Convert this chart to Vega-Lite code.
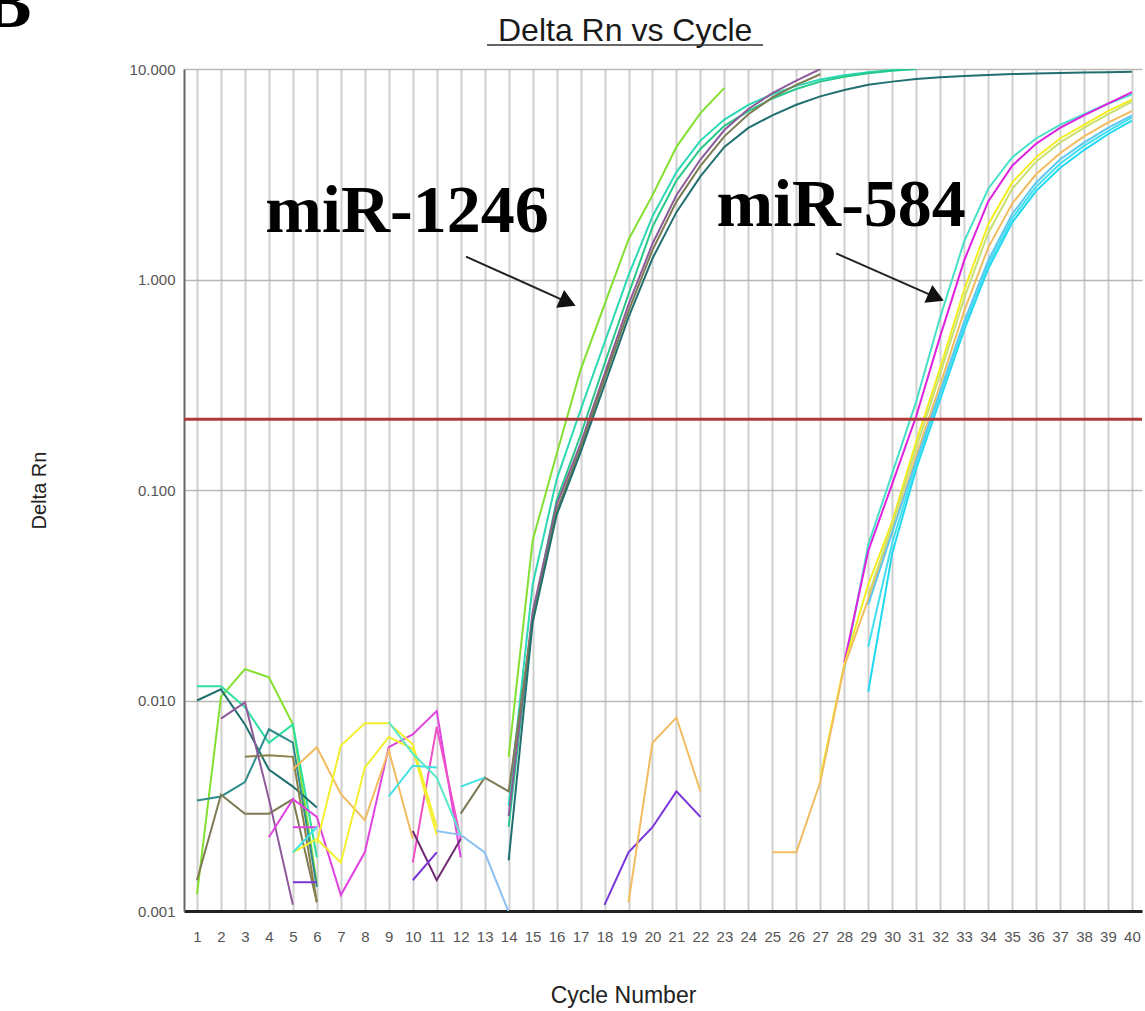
{
  "$schema": "https://vega.github.io/schema/vega-lite/v6.json",
  "width": 958,
  "height": 842,
  "autosize": {"type": "none"},
  "padding": {"left": 184, "top": 69, "right": 3, "bottom": 100},
  "background": "white",
  "config": {"view": {"stroke": null}, "font": "Liberation Sans"},
  "datasets": {
    "curves": [
      {"s":"Lm","g":"Lm","c":14,"v":0.0054},{"s":"Lm","g":"Lm","c":15,"v":0.0575},{"s":"Lm","g":"Lm","c":16,"v":0.148},{"s":"Lm","g":"Lm","c":17,"v":0.372},{"s":"Lm","g":"Lm","c":18,"v":0.759},{"s":"Lm","g":"Lm","c":19,"v":1.55},{"s":"Lm","g":"Lm","c":20,"v":2.51},{"s":"Lm","g":"Lm","c":21,"v":4.27},{"s":"Lm","g":"Lm","c":22,"v":6.17},{"s":"Lm","g":"Lm","c":23,"v":8.13},
      {"s":"T","g":"T","c":14,"v":0.00316},{"s":"T","g":"T","c":15,"v":0.0355},{"s":"T","g":"T","c":16,"v":0.112},{"s":"T","g":"T","c":17,"v":0.24},{"s":"T","g":"T","c":18,"v":0.501},{"s":"T","g":"T","c":19,"v":1.047},{"s":"T","g":"T","c":20,"v":1.995},{"s":"T","g":"T","c":21,"v":3.236},{"s":"T","g":"T","c":22,"v":4.571},{"s":"T","g":"T","c":23,"v":5.754},{"s":"T","g":"T","c":24,"v":6.761},{"s":"T","g":"T","c":25,"v":7.586},{"s":"T","g":"T","c":26,"v":8.318},{"s":"T","g":"T","c":27,"v":8.913},{"s":"T","g":"T","c":28,"v":9.333},{"s":"T","g":"T","c":29,"v":9.66},{"s":"T","g":"T","c":30,"v":9.886},{"s":"T","g":"T","c":31,"v":10},
      {"s":"G","g":"G","c":14,"v":0.00251},{"s":"G","g":"G","c":15,"v":0.0251},{"s":"G","g":"G","c":16,"v":0.0891},{"s":"G","g":"G","c":17,"v":0.182},{"s":"G","g":"G","c":18,"v":0.398},{"s":"G","g":"G","c":19,"v":0.851},{"s":"G","g":"G","c":20,"v":1.778},{"s":"G","g":"G","c":21,"v":2.951},{"s":"G","g":"G","c":22,"v":4.169},{"s":"G","g":"G","c":23,"v":5.37},{"s":"G","g":"G","c":24,"v":6.31},{"s":"G","g":"G","c":25,"v":7.244},{"s":"G","g":"G","c":26,"v":8.035},{"s":"G","g":"G","c":27,"v":8.71},{"s":"G","g":"G","c":28,"v":9.183},{"s":"G","g":"G","c":29,"v":9.55},{"s":"G","g":"G","c":30,"v":9.817},{"s":"G","g":"G","c":31,"v":10},
      {"s":"P","g":"P","c":14,"v":0.00282},{"s":"P","g":"P","c":15,"v":0.0263},{"s":"P","g":"P","c":16,"v":0.0851},{"s":"P","g":"P","c":17,"v":0.166},{"s":"P","g":"P","c":18,"v":0.355},{"s":"P","g":"P","c":19,"v":0.759},{"s":"P","g":"P","c":20,"v":1.479},{"s":"P","g":"P","c":21,"v":2.512},{"s":"P","g":"P","c":22,"v":3.715},{"s":"P","g":"P","c":23,"v":5.129},{"s":"P","g":"P","c":24,"v":6.457},{"s":"P","g":"P","c":25,"v":7.674},{"s":"P","g":"P","c":26,"v":8.81},{"s":"P","g":"P","c":27,"v":10},
      {"s":"O","g":"O","c":12,"v":0.0029},{"s":"O","g":"O","c":13,"v":0.0043},{"s":"O","g":"O","c":14,"v":0.0037},{"s":"O","g":"O","c":15,"v":0.024},{"s":"O","g":"O","c":16,"v":0.0794},{"s":"O","g":"O","c":17,"v":0.158},{"s":"O","g":"O","c":18,"v":0.339},{"s":"O","g":"O","c":19,"v":0.708},{"s":"O","g":"O","c":20,"v":1.38},{"s":"O","g":"O","c":21,"v":2.344},{"s":"O","g":"O","c":22,"v":3.467},{"s":"O","g":"O","c":23,"v":4.786},{"s":"O","g":"O","c":24,"v":6.095},{"s":"O","g":"O","c":25,"v":7.328},{"s":"O","g":"O","c":26,"v":8.414},{"s":"O","g":"O","c":27,"v":9.441},
      {"s":"D","g":"D","c":14,"v":0.00174},{"s":"D","g":"D","c":15,"v":0.0234},{"s":"D","g":"D","c":16,"v":0.0759},{"s":"D","g":"D","c":17,"v":0.151},{"s":"D","g":"D","c":18,"v":0.316},{"s":"D","g":"D","c":19,"v":0.661},{"s":"D","g":"D","c":20,"v":1.259},{"s":"D","g":"D","c":21,"v":2.089},{"s":"D","g":"D","c":22,"v":3.09},{"s":"D","g":"D","c":23,"v":4.266},{"s":"D","g":"D","c":24,"v":5.248},{"s":"D","g":"D","c":25,"v":6.026},{"s":"D","g":"D","c":26,"v":6.761},{"s":"D","g":"D","c":27,"v":7.413},{"s":"D","g":"D","c":28,"v":7.943},{"s":"D","g":"D","c":29,"v":8.414},{"s":"D","g":"D","c":30,"v":8.71},{"s":"D","g":"D","c":31,"v":8.954},{"s":"D","g":"D","c":32,"v":9.141},{"s":"D","g":"D","c":33,"v":9.268},{"s":"D","g":"D","c":34,"v":9.376},{"s":"D","g":"D","c":35,"v":9.462},{"s":"D","g":"D","c":36,"v":9.528},{"s":"D","g":"D","c":37,"v":9.572},{"s":"D","g":"D","c":38,"v":9.616},{"s":"D","g":"D","c":39,"v":9.661},{"s":"D","g":"D","c":40,"v":9.705},
      {"s":"T5","g":"T5","c":28,"v":0.0141},{"s":"T5","g":"T5","c":29,"v":0.055},{"s":"T5","g":"T5","c":30,"v":0.12},{"s":"T5","g":"T5","c":31,"v":0.263},{"s":"T5","g":"T5","c":32,"v":0.661},{"s":"T5","g":"T5","c":33,"v":1.514},{"s":"T5","g":"T5","c":34,"v":2.692},{"s":"T5","g":"T5","c":35,"v":3.802},{"s":"T5","g":"T5","c":36,"v":4.677},{"s":"T5","g":"T5","c":37,"v":5.433},{"s":"T5","g":"T5","c":38,"v":6.095},{"s":"T5","g":"T5","c":39,"v":6.84},{"s":"T5","g":"T5","c":40,"v":7.586},
      {"s":"M5","g":"M5","c":28,"v":0.0151},{"s":"M5","g":"M5","c":29,"v":0.0513},{"s":"M5","g":"M5","c":30,"v":0.107},{"s":"M5","g":"M5","c":31,"v":0.224},{"s":"M5","g":"M5","c":32,"v":0.537},{"s":"M5","g":"M5","c":33,"v":1.23},{"s":"M5","g":"M5","c":34,"v":2.344},{"s":"M5","g":"M5","c":35,"v":3.467},{"s":"M5","g":"M5","c":36,"v":4.416},{"s":"M5","g":"M5","c":37,"v":5.248},{"s":"M5","g":"M5","c":38,"v":6.026},{"s":"M5","g":"M5","c":39,"v":6.84},{"s":"M5","g":"M5","c":40,"v":7.762},
      {"s":"Y5","g":"Y5","c":27,"v":0.0043},{"s":"Y5","g":"Y5","c":28,"v":0.0148},{"s":"Y5","g":"Y5","c":29,"v":0.0355},{"s":"Y5","g":"Y5","c":30,"v":0.0708},{"s":"Y5","g":"Y5","c":31,"v":0.17},{"s":"Y5","g":"Y5","c":32,"v":0.38},{"s":"Y5","g":"Y5","c":33,"v":0.891},{"s":"Y5","g":"Y5","c":34,"v":1.82},{"s":"Y5","g":"Y5","c":35,"v":2.884},{"s":"Y5","g":"Y5","c":36,"v":3.802},{"s":"Y5","g":"Y5","c":37,"v":4.677},{"s":"Y5","g":"Y5","c":38,"v":5.433},{"s":"Y5","g":"Y5","c":39,"v":6.31},{"s":"Y5","g":"Y5","c":40,"v":7.161},
      {"s":"YG5","g":"YG5","c":29,"v":0.0316},{"s":"YG5","g":"YG5","c":30,"v":0.0676},{"s":"YG5","g":"YG5","c":31,"v":0.158},{"s":"YG5","g":"YG5","c":32,"v":0.355},{"s":"YG5","g":"YG5","c":33,"v":0.813},{"s":"YG5","g":"YG5","c":34,"v":1.66},{"s":"YG5","g":"YG5","c":35,"v":2.692},{"s":"YG5","g":"YG5","c":36,"v":3.631},{"s":"YG5","g":"YG5","c":37,"v":4.467},{"s":"YG5","g":"YG5","c":38,"v":5.248},{"s":"YG5","g":"YG5","c":39,"v":6.095},{"s":"YG5","g":"YG5","c":40,"v":7.0},
      {"s":"or","g":"Or5","c":25,"v":0.0019},{"s":"or","g":"Or5","c":26,"v":0.0019},{"s":"or","g":"Or5","c":27,"v":0.0041},{"s":"or","g":"Or5","c":28,"v":0.0145},{"s":"or","g":"Or5","c":29,"v":0.0302},{"s":"or","g":"Or5","c":30,"v":0.0631},{"s":"or","g":"Or5","c":31,"v":0.145},{"s":"or","g":"Or5","c":32,"v":0.316},{"s":"or","g":"Or5","c":33,"v":0.708},{"s":"or","g":"Or5","c":34,"v":1.413},{"s":"or","g":"Or5","c":35,"v":2.291},{"s":"or","g":"Or5","c":36,"v":3.162},{"s":"or","g":"Or5","c":37,"v":3.981},{"s":"or","g":"Or5","c":38,"v":4.786},{"s":"or","g":"Or5","c":39,"v":5.559},{"s":"or","g":"Or5","c":40,"v":6.31},
      {"s":"C5a","g":"C5a","c":29,"v":0.011},{"s":"C5a","g":"C5a","c":30,"v":0.0501},{"s":"C5a","g":"C5a","c":31,"v":0.126},{"s":"C5a","g":"C5a","c":32,"v":0.269},{"s":"C5a","g":"C5a","c":33,"v":0.575},{"s":"C5a","g":"C5a","c":34,"v":1.122},{"s":"C5a","g":"C5a","c":35,"v":1.862},{"s":"C5a","g":"C5a","c":36,"v":2.63},{"s":"C5a","g":"C5a","c":37,"v":3.388},{"s":"C5a","g":"C5a","c":38,"v":4.121},{"s":"C5a","g":"C5a","c":39,"v":4.898},{"s":"C5a","g":"C5a","c":40,"v":5.689},
      {"s":"C5b","g":"C5b","c":29,"v":0.018},{"s":"C5b","g":"C5b","c":30,"v":0.0562},{"s":"C5b","g":"C5b","c":31,"v":0.132},{"s":"C5b","g":"C5b","c":32,"v":0.282},{"s":"C5b","g":"C5b","c":33,"v":0.603},{"s":"C5b","g":"C5b","c":34,"v":1.175},{"s":"C5b","g":"C5b","c":35,"v":1.95},{"s":"C5b","g":"C5b","c":36,"v":2.754},{"s":"C5b","g":"C5b","c":37,"v":3.548},{"s":"C5b","g":"C5b","c":38,"v":4.315},{"s":"C5b","g":"C5b","c":39,"v":5.07},{"s":"C5b","g":"C5b","c":40,"v":5.888},
      {"s":"C5c","g":"C5c","c":29,"v":0.0285},{"s":"C5c","g":"C5c","c":30,"v":0.0631},{"s":"C5c","g":"C5c","c":31,"v":0.138},{"s":"C5c","g":"C5c","c":32,"v":0.295},{"s":"C5c","g":"C5c","c":33,"v":0.631},{"s":"C5c","g":"C5c","c":34,"v":1.23},{"s":"C5c","g":"C5c","c":35,"v":2.042},{"s":"C5c","g":"C5c","c":36,"v":2.884},{"s":"C5c","g":"C5c","c":37,"v":3.715},{"s":"C5c","g":"C5c","c":38,"v":4.467},{"s":"C5c","g":"C5c","c":39,"v":5.248},{"s":"C5c","g":"C5c","c":40,"v":6.026},
      {"s":"Lm","g":"n1","c":1,"v":0.0012},{"s":"Lm","g":"n1","c":2,"v":0.0104},{"s":"Lm","g":"n1","c":3,"v":0.0141},{"s":"Lm","g":"n1","c":4,"v":0.0129},{"s":"Lm","g":"n1","c":5,"v":0.0077},{"s":"Lm","g":"n1","c":6,"v":0.00135},
      {"s":"sg","g":"n2","c":1,"v":0.0117},{"s":"sg","g":"n2","c":2,"v":0.0117},{"s":"sg","g":"n2","c":3,"v":0.0093},{"s":"sg","g":"n2","c":4,"v":0.0063},{"s":"sg","g":"n2","c":5,"v":0.0077},{"s":"sg","g":"n2","c":6,"v":0.0018},
      {"s":"D","g":"n3","c":1,"v":0.01},{"s":"D","g":"n3","c":2,"v":0.0113},{"s":"D","g":"n3","c":3,"v":0.0077},{"s":"D","g":"n3","c":4,"v":0.0047},{"s":"D","g":"n3","c":5,"v":0.0039},{"s":"D","g":"n3","c":6,"v":0.0031},
      {"s":"teal2","g":"n4","c":1,"v":0.00335},{"s":"teal2","g":"n4","c":2,"v":0.0035},{"s":"teal2","g":"n4","c":3,"v":0.0041},{"s":"teal2","g":"n4","c":4,"v":0.0073},{"s":"teal2","g":"n4","c":5,"v":0.0063},{"s":"teal2","g":"n4","c":6,"v":0.0013},
      {"s":"O","g":"n5","c":1,"v":0.0014},{"s":"O","g":"n5","c":2,"v":0.00357},{"s":"O","g":"n5","c":3,"v":0.0029},{"s":"O","g":"n5","c":4,"v":0.0029},{"s":"O","g":"n5","c":5,"v":0.0034},{"s":"O","g":"n5","c":6,"v":0.0011},
      {"s":"ol2","g":"n6","c":3,"v":0.0054},{"s":"ol2","g":"n6","c":4,"v":0.0055},{"s":"ol2","g":"n6","c":5,"v":0.0054},{"s":"ol2","g":"n6","c":6,"v":0.0011},
      {"s":"P","g":"n7","c":2,"v":0.0082},{"s":"P","g":"n7","c":3,"v":0.0098},{"s":"P","g":"n7","c":4,"v":0.0034},{"s":"P","g":"n7","c":5,"v":0.00107},
      {"s":"mg","g":"n8","c":4,"v":0.00224},{"s":"mg","g":"n8","c":5,"v":0.0034},{"s":"mg","g":"n8","c":6,"v":0.0028},{"s":"mg","g":"n8","c":7,"v":0.00119},{"s":"mg","g":"n8","c":8,"v":0.0019},{"s":"mg","g":"n8","c":9,"v":0.006},{"s":"mg","g":"n8","c":10,"v":0.0069},{"s":"mg","g":"n8","c":11,"v":0.0089},{"s":"mg","g":"n8","c":12,"v":0.0018},
      {"s":"mg2","g":"n9","c":10,"v":0.0017},{"s":"mg2","g":"n9","c":11,"v":0.0075},{"s":"mg2","g":"n9","c":12,"v":0.0022},
      {"s":"mg","g":"n10","c":5,"v":0.0025},{"s":"mg","g":"n10","c":6,"v":0.0025},
      {"s":"vi","g":"n11","c":5,"v":0.00137},{"s":"vi","g":"n11","c":6,"v":0.00137},
      {"s":"or","g":"n12","c":5,"v":0.0047},{"s":"or","g":"n12","c":6,"v":0.006},{"s":"or","g":"n12","c":7,"v":0.0036},{"s":"or","g":"n12","c":8,"v":0.0027},{"s":"or","g":"n12","c":9,"v":0.0058},{"s":"or","g":"n12","c":10,"v":0.0022},
      {"s":"ye","g":"n13","c":5,"v":0.0019},{"s":"ye","g":"n13","c":6,"v":0.0022},{"s":"ye","g":"n13","c":7,"v":0.0017},{"s":"ye","g":"n13","c":8,"v":0.0048},{"s":"ye","g":"n13","c":9,"v":0.0067},{"s":"ye","g":"n13","c":10,"v":0.0059},{"s":"ye","g":"n13","c":11,"v":0.0023},
      {"s":"ye","g":"n14","c":6,"v":0.0021},{"s":"ye","g":"n14","c":7,"v":0.0061},{"s":"ye","g":"n14","c":8,"v":0.0078},{"s":"ye","g":"n14","c":9,"v":0.0078},{"s":"ye","g":"n14","c":10,"v":0.0062},{"s":"ye","g":"n14","c":11,"v":0.0025},
      {"s":"cy","g":"n15","c":9,"v":0.0035},{"s":"cy","g":"n15","c":10,"v":0.0049},{"s":"cy","g":"n15","c":11,"v":0.0048},
      {"s":"aq","g":"n16","c":9,"v":0.0079},{"s":"aq","g":"n16","c":10,"v":0.0056},{"s":"aq","g":"n16","c":11,"v":0.0043},{"s":"aq","g":"n16","c":12,"v":0.0023},
      {"s":"cy","g":"n17","c":5,"v":0.0019},{"s":"cy","g":"n17","c":6,"v":0.0025},
      {"s":"pl","g":"n18","c":10,"v":0.0024},{"s":"pl","g":"n18","c":11,"v":0.0014},{"s":"pl","g":"n18","c":12,"v":0.0022},
      {"s":"vi","g":"n19","c":10,"v":0.0014},{"s":"vi","g":"n19","c":11,"v":0.0019},
      {"s":"lb","g":"n20","c":11,"v":0.0024},{"s":"lb","g":"n20","c":12,"v":0.0023},{"s":"lb","g":"n20","c":13,"v":0.0019},{"s":"lb","g":"n20","c":14,"v":0.00099},
      {"s":"cy","g":"n21","c":12,"v":0.0039},{"s":"cy","g":"n21","c":13,"v":0.0043},
      {"s":"vi","g":"n22","c":18,"v":0.00107},{"s":"vi","g":"n22","c":19,"v":0.0019},{"s":"vi","g":"n22","c":20,"v":0.0025},{"s":"vi","g":"n22","c":21,"v":0.0037},{"s":"vi","g":"n22","c":22,"v":0.0028},
      {"s":"or","g":"n23","c":19,"v":0.0011},{"s":"or","g":"n23","c":20,"v":0.0063},{"s":"or","g":"n23","c":21,"v":0.0083},{"s":"or","g":"n23","c":22,"v":0.0037}
    ],
    "labels": [
      {"lab": "miR-1246", "c": 9.76, "v": 1.68},
      {"lab": "miR-584", "c": 27.87, "v": 1.79}
    ],
    "arrows": [
      {"c": 12.22, "v": 1.285, "c2": 16.47, "v2": 0.779},
      {"c": 27.66, "v": 1.33, "c2": 31.83, "v2": 0.823}
    ]
  },
  "layer": [
    {
      "data": {"name": "curves"},
      "mark": {"type": "line", "strokeWidth": 2, "clip": true, "interpolate": "linear"},
      "encoding": {
        "x": {"field": "c", "type": "quantitative", "scale": {"domain": [0.458, 40.42], "nice": false, "zero": false},
          "axis": {"values": [1,2,3,4,5,6,7,8,9,10,11,12,13,14,15,16,17,18,19,20,21,22,23,24,25,26,27,28,29,30,31,32,33,34,35,36,37,38,39,40],
            "tickCount": 40,
            "grid": true, "gridColor": "#cfcfcf", "gridWidth": 2, "domainColor": "#222", "domainWidth": 3, "ticks": false, "tickSize": 0,
            "labelFont": "Liberation Sans", "labelFontSize": 15, "labelColor": "#555", "labelPadding": 18, "labelOverlap": false, "labelFlush": false,
            "title": "Cycle Number", "titleFont": "Liberation Sans", "titleFontSize": 23, "titleFontWeight": "normal", "titleColor": "#222", "titlePadding": 40, "titleX": 439}},
        "y": {"field": "v", "type": "quantitative", "scale": {"type": "log", "domain": [0.001, 10], "nice": false},
          "axis": {"values": [0.001, 0.01, 0.1, 1, 10], "format": ".3f", "grid": true, "gridColor": "#b9b9b2", "gridWidth": 1.5, "domainColor": "#666", "domainWidth": 2, "ticks": false, "tickSize": 0,
            "labelFont": "Liberation Sans", "labelFontSize": 15, "labelColor": "#555", "labelPadding": 9,
            "title": "Delta Rn", "titleFont": "Liberation Sans", "titleFontSize": 20, "titleFontWeight": "normal", "titleColor": "#222", "titlePadding": 80}},
        "color": {"field": "s", "type": "nominal", "legend": null,
          "scale": {"domain": ["Lm","T","G","P","O","D","sg","teal2","ol2","mg","mg2","vi","or","ye","cy","aq","pl","lb","T5","M5","Y5","YG5","C5a","C5b","C5c"],
            "range": ["#84E030","#2CD9B4","#26C98A","#8E5A9A","#7E7A55","#21706F","#2EE0A0","#2F8C8C","#8A8048","#E044E0","#F050C8","#7A34D8","#F2BC60","#F2F030","#40E2E8","#5AE8C8","#6E2A72","#8CC0F0","#48E0C8","#E020E0","#F4EE20","#C8E070","#20D8F0","#40E0F0","#60C8F0"]}},
        "detail": {"field": "g", "type": "nominal"},
        "order": {"field": "c", "type": "quantitative"}
      }
    },
    {
      "data": {"values": [{"t": 0.217}]},
      "mark": {"type": "rule", "color": "#B03A3A", "strokeWidth": 3},
      "encoding": {"y": {"field": "t", "type": "quantitative", "scale": {"type": "log", "domain": [0.001, 10], "nice": false}}}
    },
    {
      "data": {"name": "arrows"},
      "mark": {"type": "rule", "color": "#222", "strokeWidth": 2},
      "encoding": {
        "x": {"field": "c", "type": "quantitative", "scale": {"domain": [0.458, 40.42], "nice": false, "zero": false}},
        "y": {"field": "v", "type": "quantitative", "scale": {"type": "log", "domain": [0.001, 10], "nice": false}},
        "x2": {"field": "c2"},
        "y2": {"field": "v2"}
      }
    },
    {
      "data": {"name": "arrows"},
      "mark": {"type": "point", "shape": "triangle-right", "filled": true, "color": "#111", "opacity": 1, "size": 380, "angle": 24},
      "encoding": {
        "x": {"field": "c2", "type": "quantitative", "scale": {"domain": [0.458, 40.42], "nice": false, "zero": false}},
        "y": {"field": "v2", "type": "quantitative", "scale": {"type": "log", "domain": [0.001, 10], "nice": false}}
      }
    },
    {
      "data": {"name": "labels"},
      "mark": {"type": "text", "font": "Liberation Serif", "fontWeight": "bold", "fontSize": 68, "color": "#000", "align": "center", "baseline": "alphabetic"},
      "encoding": {
        "x": {"field": "c", "type": "quantitative", "scale": {"domain": [0.458, 40.42], "nice": false, "zero": false}},
        "y": {"field": "v", "type": "quantitative", "scale": {"type": "log", "domain": [0.001, 10], "nice": false}},
        "text": {"field": "lab"}
      }
    },
    {
      "data": {"values": [{"lab": "Delta Rn vs Cycle", "c": 18.86, "v": 13.6}]},
      "mark": {"type": "text", "font": "Liberation Sans", "fontSize": 32, "color": "#1a1a1a", "align": "center", "baseline": "alphabetic"},
      "encoding": {
        "x": {"field": "c", "type": "quantitative", "scale": {"domain": [0.458, 40.42], "nice": false, "zero": false}},
        "y": {"field": "v", "type": "quantitative", "scale": {"type": "log", "domain": [0.001, 10], "nice": false}},
        "text": {"field": "lab"}
      }
    },
    {
      "data": {"values": [{"c": 13.1, "c2": 24.61, "v": 13.0}]},
      "mark": {"type": "rule", "color": "#333", "strokeWidth": 1.5},
      "encoding": {
        "x": {"field": "c", "type": "quantitative", "scale": {"domain": [0.458, 40.42], "nice": false, "zero": false}},
        "x2": {"field": "c2"},
        "y": {"field": "v", "type": "quantitative", "scale": {"type": "log", "domain": [0.001, 10], "nice": false}}
      }
    },
    {
      "data": {"values": [{"lab": "B", "c": -6.9, "v": 15.9}]},
      "mark": {"type": "text", "font": "Liberation Serif", "fontWeight": "bold", "fontSize": 72, "color": "#000", "align": "center", "baseline": "alphabetic"},
      "encoding": {
        "x": {"field": "c", "type": "quantitative", "scale": {"domain": [0.458, 40.42], "nice": false, "zero": false}},
        "y": {"field": "v", "type": "quantitative", "scale": {"type": "log", "domain": [0.001, 10], "nice": false}},
        "text": {"field": "lab"}
      }
    }
  ]
}
